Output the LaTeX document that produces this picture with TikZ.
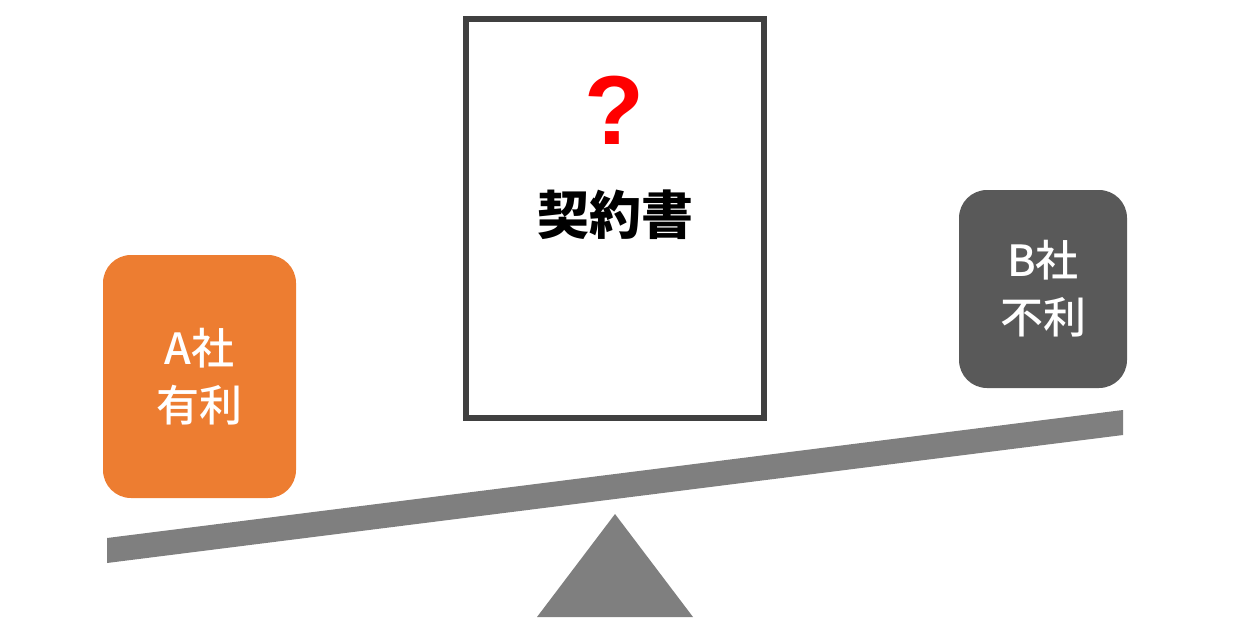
\documentclass[tikz,border=0pt]{standalone}
\usepackage{fontspec}
\usepackage{xcolor}
\usepackage{tikz}
\usetikzlibrary{positioning}
\newfontfamily\cjk{Noto Sans CJK JP}
\newfontfamily\cjkmed{Noto Sans CJK JP Medium}
\newfontfamily\qfont{Liberation Sans}
\definecolor{SeesawGray}{HTML}{7F7F7F}
\definecolor{FrameGray}{HTML}{404040}
\definecolor{AOrange}{HTML}{ED7D31}
\definecolor{BGray}{HTML}{595959}
\tikzset{
  partybox/.style={rounded corners=28pt,draw=none,align=center,text=white,
    font=\cjkmed\fontsize{43}{57}\selectfont,inner sep=0pt},
  docbox/.style={draw=FrameGray,line width=6pt,line join=miter,fill=white,minimum width=298pt,minimum height=399pt,inner sep=0pt}
}
\begin{document}
\begin{tikzpicture}[line cap=round,line join=round,x=1pt,y=-1pt]
\useasboundingbox (0,0) rectangle (1241,627);
% seesaw
\fill[SeesawGray] (107,538) -- (1123,410) -- (1123,435) -- (107,563) -- cycle;
\fill[SeesawGray] (615,514) -- (693,617) -- (537,617) -- cycle;
% contract
\node[docbox] (contract) at (614.5,218.5) {};
\node[text=red,font=\qfont\bfseries\fontsize{98}{98}\selectfont,inner sep=0pt] (qmark) at (614,110) {?};
\node[font=\cjk\bfseries\fontsize{52}{52}\selectfont,inner sep=0pt] (title) at (615,215) {契約書};
% parties
\node[partybox,fill=AOrange,minimum width=193pt,minimum height=243pt] (partyA) at (199.5,376.5) {A社\\有利};
\node[partybox,fill=BGray,minimum width=168pt,minimum height=198pt] (partyB) at (1043,289) {B社\\不利};
\end{tikzpicture}
\end{document}
